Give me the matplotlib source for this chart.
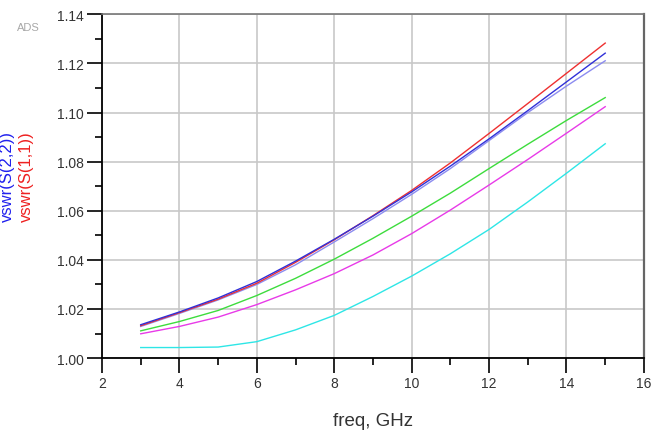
import matplotlib
matplotlib.use('Agg')
import matplotlib.pyplot as plt
from matplotlib.ticker import MultipleLocator, FormatStrFormatter

plt.rcParams['font.family'] = ['Liberation Sans', 'DejaVu Sans']

# frequency sweep, GHz
freq = [3, 4, 5, 6, 7, 8, 9, 10, 11, 12, 13, 14, 15]

# vswr traces
vswr_red = [1.0132, 1.0185, 1.0240, 1.0305, 1.0390, 1.0482, 1.0580, 1.0683, 1.0795, 1.0915, 1.1037, 1.1160, 1.1283]
vswr_blue = [1.0136, 1.0188, 1.0245, 1.0312, 1.0395, 1.0484, 1.0578, 1.0677, 1.0782, 1.0893, 1.1008, 1.1125, 1.1242]
vswr_lblue = [1.0129, 1.0182, 1.0237, 1.0300, 1.0380, 1.0473, 1.0568, 1.0667, 1.0772, 1.0886, 1.1000, 1.1108, 1.1211]
vswr_green = [1.0111, 1.0149, 1.0194, 1.0255, 1.0325, 1.0403, 1.0488, 1.0578, 1.0672, 1.0772, 1.0871, 1.0968, 1.1061]
vswr_magenta = [1.0099, 1.0129, 1.0167, 1.0218, 1.0278, 1.0344, 1.0420, 1.0507, 1.0603, 1.0705, 1.0809, 1.0916, 1.1024]
vswr_cyan = [1.0043, 1.0043, 1.0045, 1.0067, 1.0115, 1.0174, 1.0251, 1.0334, 1.0425, 1.0524, 1.0636, 1.0753, 1.0873]

xticks = [2, 4, 6, 8, 10, 12, 14, 16]

fig = plt.figure(figsize=(6.69, 4.39), dpi=100, facecolor='white')
ax = fig.add_axes([0.1525, 0.182, 0.81, 0.783])

ax.plot(freq, vswr_cyan, color='#2ee6e6', lw=1.0, zorder=3)
ax.plot(freq, vswr_magenta, color='#e83ae8', lw=1.0, zorder=3)
ax.plot(freq, vswr_green, color='#3ddc3d', lw=1.0, zorder=3)
ax.plot(freq, vswr_lblue, color='#8c8cf0', lw=1.0, zorder=3)
ax.plot(freq, vswr_blue, color='#3030d8', lw=1.0, zorder=4)
ax.plot(freq, vswr_red, color='#ee3030', lw=1.0, zorder=3)

ax.set_xlim(2, 16)
ax.set_ylim(1.00, 1.14)
ax.set_xticks(xticks)
ax.xaxis.set_minor_locator(MultipleLocator(1))
ax.yaxis.set_major_locator(MultipleLocator(0.02))
ax.yaxis.set_minor_locator(MultipleLocator(0.01))
ax.yaxis.set_major_formatter(FormatStrFormatter('%.2f'))

ax.grid(True, which='major', color='#c8c8c8', lw=1.2, zorder=0)
ax.tick_params(which='major', direction='out', length=11, width=1.2,
               labelsize=10, labelcolor='#333333', pad=2)
ax.tick_params(which='minor', direction='out', length=5, width=1.2)

for s in ('left', 'bottom'):
    ax.spines[s].set_color('black')
    ax.spines[s].set_linewidth(1.3)
ax.spines['top'].set_color('#777777')
ax.spines['top'].set_linewidth(1.2)
ax.spines['right'].set_color('#666666')
ax.spines['right'].set_linewidth(1.6)

ax.set_xlabel('freq, GHz', fontsize=13.5, color='#333333', labelpad=16)

fig.text(0.011, 0.598, 'vswr(S(2,2))', rotation=90, color='#2020ee',
         fontsize=12, ha='center', va='center')
fig.text(0.040, 0.598, 'vswr(S(1,1))', rotation=90, color='#ee2020',
         fontsize=12, ha='center', va='center')
fig.text(0.042, 0.937, 'ADS', color='#a8a8a8', fontsize=8,
         ha='center', va='center')

fig.savefig('out.png', dpi=100, facecolor='white')
